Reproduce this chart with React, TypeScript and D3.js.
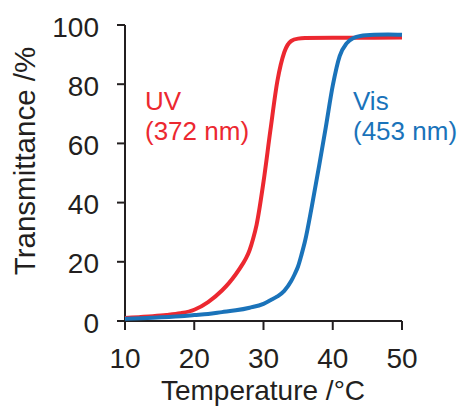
import React from "react";
import * as d3 from "d3";

const uvTemp = [10, 12, 14, 16, 18, 20, 22, 24, 25, 26, 27, 27.5, 28, 28.5, 29, 30, 31, 32, 33, 34, 35, 36, 40, 45, 50];
const uvTrans = [1.0, 1.3, 1.6, 2.0, 2.6, 3.8, 6.4, 10.3, 12.8, 15.8, 19.3, 21.3, 24, 27.8, 32.5, 47, 64.5, 81, 90.8, 94.6, 95.4, 95.6, 95.7, 95.7, 95.8];

const visTemp = [10, 14, 18, 20, 22, 24, 26, 28, 30, 31, 32, 33, 34, 34.5, 35, 35.5, 36, 37, 38, 39, 40, 41, 42, 43, 44, 46, 48, 50];
const visTrans = [0.8, 1.1, 1.6, 2.0, 2.4, 3.0, 3.6, 4.5, 5.8, 7.0, 8.3, 10.2, 13.5, 15.8, 18.5, 22.5, 27, 39, 52, 65.5, 79.5, 89.5, 93.8, 95.6, 96.3, 96.7, 96.8, 96.7];

const xTicks = [10, 20, 30, 40, 50];
const yTicks = [0, 20, 40, 60, 80, 100];

const uvLabel = ["UV", "(372 nm)"];
const visLabel = ["Vis", "(453 nm)"];

const RED = "#ec2830";
const BLUE = "#1a73ba";
const INK = "#231f20";
const FONT = "'Liberation Sans', Arial, sans-serif";

export default function App() {
  const x = d3.scaleLinear().domain([10, 50]).range([125, 402]);
  const y = d3.scaleLinear().domain([0, 100]).range([321, 25]);
  const line = d3
    .line<[number, number]>()
    .x((d) => x(d[0]))
    .y((d) => y(d[1]))
    .curve(d3.curveMonotoneX);
  const uvPts = uvTemp.map((t, i) => [t, uvTrans[i]] as [number, number]);
  const visPts = visTemp.map((t, i) => [t, visTrans[i]] as [number, number]);

  return (
    <svg
      width={462}
      height={410}
      style={{ position: "absolute", left: 0, top: 0, background: "#fff" }}
      fontFamily={FONT}
    >
      {/* axes */}
      <line x1={x(10)} x2={x(10)} y1={y(100)} y2={y(0)} stroke={INK} strokeWidth={2} />
      <line x1={x(10)} x2={x(50)} y1={y(0)} y2={y(0)} stroke={INK} strokeWidth={2} />
      {yTicks.map((t) => (
        <g key={"y" + t}>
          <line x1={x(10) - 8} x2={x(10)} y1={y(t)} y2={y(t)} stroke={INK} strokeWidth={2} />
          <text x={99} y={y(t) + 11.5} textAnchor="end" fontSize={28} fill={INK}>
            {t}
          </text>
        </g>
      ))}
      {xTicks.map((t) => (
        <g key={"x" + t}>
          <line x1={x(t)} x2={x(t)} y1={y(0)} y2={y(0) + 9} stroke={INK} strokeWidth={2} />
          <text x={x(t)} y={368} textAnchor="middle" fontSize={28} fill={INK}>
            {t}
          </text>
        </g>
      ))}
      <text x={263} y={400} textAnchor="middle" fontSize={28} fill={INK}>
        Temperature /°C
      </text>
      <text
        transform={`translate(35,161) rotate(-90)`}
        textAnchor="middle"
        fontSize={29.5}
        fill={INK}
      >
        Transmittance /%
      </text>

      {/* curves */}
      <path d={line(uvPts) || ""} fill="none" stroke={RED} strokeWidth={4} strokeLinejoin="round" />
      <path d={line(visPts) || ""} fill="none" stroke={BLUE} strokeWidth={4} strokeLinejoin="round" />

      {/* labels */}
      {uvLabel.map((s, i) => (
        <text key={"uv" + i} x={145} y={110 + i * 30} fontSize={26} fill={RED}>
          {s}
        </text>
      ))}
      {visLabel.map((s, i) => (
        <text key={"vis" + i} x={353} y={110 + i * 30} fontSize={26} fill={BLUE}>
          {s}
        </text>
      ))}
    </svg>
  );
}
